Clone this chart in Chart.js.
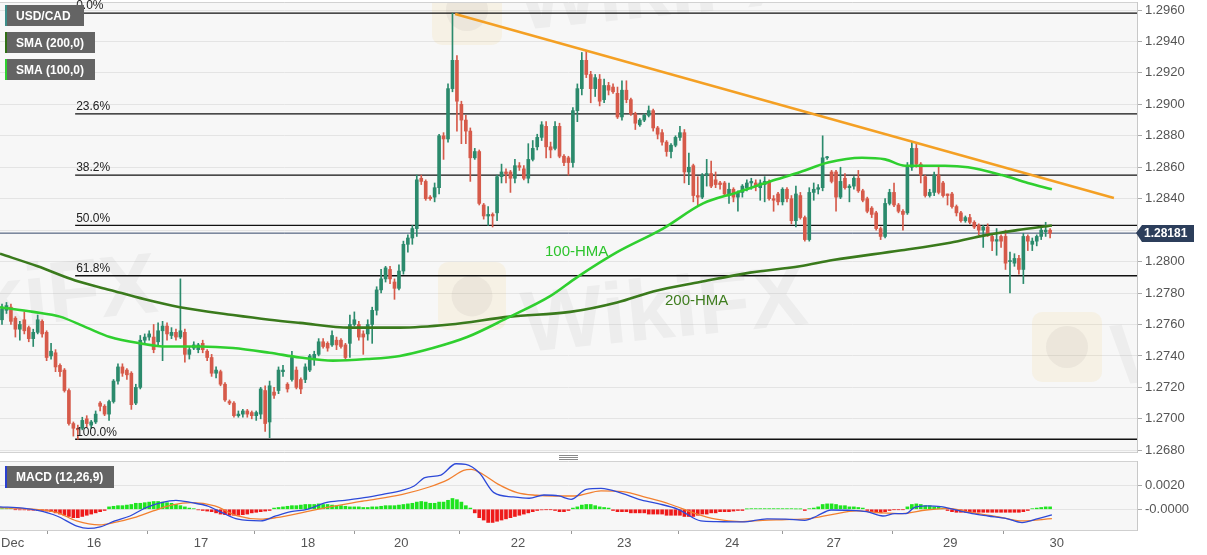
<!DOCTYPE html>
<html>
<head>
<meta charset="utf-8">
<script src="https://cdn.jsdelivr.net/npm/chart.js@4.4.1/dist/chart.umd.min.js"></script>
<style>
  html, body { margin: 0; padding: 0; background: #fff; }
  #wrap { position: relative; width: 1207px; height: 555px; overflow: hidden; background: #fff; }
  canvas { position: absolute; left: 0; }
  #main { top: 0; }
  #macd { top: 460px; }
</style>
</head>
<body>
<div id="wrap">
  <canvas id="main" width="1207" height="460"></canvas>
  <canvas id="macd" width="1207" height="95"></canvas>
</div>
<script>
/* USD/CAD hourly — candles, 100/200 HMA, fib levels, trendline, MACD */

// hourly candles, index 0 = first bar on the left
const opens = [
  1.2763,1.2769,1.2771,1.2764,1.2757,1.2763,1.2758,1.2751,1.2755,1.2762,
  1.2755,1.2740,1.2742,1.2734,1.2731,1.2718,1.2697,1.2694,1.2694,1.2700,
  1.2696,1.2698,1.2710,1.2708,1.2703,1.2711,1.2724,1.2733,1.2731,1.2729,
  1.2710,1.2720,1.2750,1.2752,1.2752,1.2749,1.2756,1.2759,1.2753,1.2755,
  1.2752,1.2755,1.2741,1.2745,1.2744,1.2748,1.2743,1.2739,1.2729,1.2730,
  1.2722,1.2711,1.2710,1.2702,1.2703,1.2705,1.2704,1.2702,1.2703,1.2718,
  1.2698,1.2717,1.2718,1.2730,1.2722,1.2725,1.2731,1.2725,1.2725,1.2731,
  1.2738,1.2741,1.2749,1.2748,1.2747,1.2750,1.2750,1.2747,1.2748,1.2760,
  1.2760,1.2754,1.2754,1.2760,1.2769,1.2782,1.2789,1.2795,1.2787,1.2783,
  1.2794,1.2811,1.2815,1.2821,1.2853,1.2851,1.2841,1.2841,1.2847,1.2880,
  1.2878,1.2910,1.2928,1.2900,1.2890,1.2883,1.2866,1.2870,1.2836,1.2829,
  1.2830,1.2831,1.2854,1.2857,1.2857,1.2853,1.2861,1.2859,1.2853,1.2865,
  1.2873,1.2879,1.2886,1.2873,1.2872,1.2886,1.2867,1.2866,1.2863,1.2896,
  1.2910,1.2928,1.2919,1.2910,1.2916,1.2903,1.2912,1.2911,1.2907,1.2892,
  1.2909,1.2903,1.2894,1.2887,1.2890,1.2893,1.2896,1.2885,1.2882,1.2876,
  1.2870,1.2874,1.2879,1.2882,1.2857,1.2861,1.2842,1.2841,1.2855,1.2856,
  1.2852,1.2850,1.2850,1.2843,1.2846,1.2841,1.2844,1.2847,1.2850,1.2850,
  1.2847,1.2849,1.2851,1.2840,1.2843,1.2838,1.2846,1.2840,1.2826,1.2842,
  1.2828,1.2814,1.2844,1.2846,1.2847,1.2866,1.2857,1.2857,1.2841,1.2853,
  1.2847,1.2848,1.2853,1.2845,1.2840,1.2834,1.2831,1.2821,1.2816,1.2837,
  1.2844,1.2836,1.2832,1.2831,1.2860,1.2872,1.2862,1.2854,1.2842,1.2844,
  1.2855,1.2850,1.2843,1.2843,1.2835,1.2831,1.2826,1.2828,1.2825,1.2823,
  1.2820,1.2822,1.2816,1.2813,1.2816,1.2816,1.2800,1.2799,1.2802,1.2795,
  1.2816,1.2811,1.2813,1.2816,1.2819,1.2820
];
const highs = [
  1.2773,1.2774,1.2773,1.2765,1.2762,1.2768,1.2759,1.2757,1.2766,1.2763,
  1.2756,1.2748,1.2744,1.2735,1.2732,1.2719,1.2698,1.2696,1.2701,1.2702,
  1.2699,1.2705,1.2711,1.2709,1.2712,1.2725,1.2735,1.2735,1.2732,1.2730,
  1.2722,1.2753,1.2754,1.2756,1.2760,1.2761,1.2762,1.2761,1.2758,1.2757,
  1.2789,1.2757,1.2746,1.2749,1.2748,1.2750,1.2744,1.2741,1.2733,1.2731,
  1.2723,1.2712,1.2711,1.2705,1.2706,1.2706,1.2705,1.2705,1.2720,1.2721,
  1.2724,1.2720,1.2733,1.2734,1.2723,1.2743,1.2733,1.2726,1.2735,1.2741,
  1.2743,1.2751,1.2751,1.2749,1.2756,1.2752,1.2751,1.2748,1.2766,1.2768,
  1.2762,1.2756,1.2763,1.2771,1.2784,1.2795,1.2797,1.2797,1.2789,1.2798,
  1.2813,1.2817,1.2823,1.2855,1.2855,1.2852,1.2842,1.2850,1.2881,1.2882,
  1.2913,1.2958,1.2931,1.2902,1.2893,1.2885,1.2872,1.2871,1.2837,1.2835,
  1.2831,1.2855,1.2862,1.2859,1.2858,1.2865,1.2863,1.2861,1.2875,1.2877,
  1.2881,1.2889,1.2889,1.2876,1.2889,1.2888,1.2868,1.2867,1.2898,1.2913,
  1.2933,1.2934,1.2921,1.2919,1.2919,1.2916,1.2914,1.2913,1.2911,1.2915,
  1.2915,1.2904,1.2895,1.2891,1.2894,1.2899,1.2897,1.2886,1.2884,1.2877,
  1.2875,1.2880,1.2886,1.2884,1.2869,1.2862,1.2854,1.2856,1.2865,1.2864,
  1.2857,1.2851,1.2851,1.2850,1.2847,1.2845,1.2849,1.2852,1.2853,1.2852,
  1.2852,1.2854,1.2852,1.2842,1.2844,1.2847,1.2847,1.2842,1.2848,1.2844,
  1.2829,1.2847,1.2850,1.2849,1.2880,1.2867,1.2858,1.2858,1.2860,1.2856,
  1.2849,1.2854,1.2858,1.2846,1.2841,1.2835,1.2832,1.2822,1.2840,1.2846,
  1.2850,1.2837,1.2833,1.2863,1.2876,1.2875,1.2863,1.2855,1.2846,1.2857,
  1.2861,1.2851,1.2843,1.2844,1.2836,1.2832,1.2829,1.2830,1.2826,1.2824,
  1.2823,1.2824,1.2817,1.2821,1.2817,1.2820,1.2806,1.2805,1.2804,1.2818,
  1.2817,1.2815,1.2817,1.2822,1.2825,1.2821
];
const lows = [
  1.2760,1.2767,1.2760,1.2752,1.2750,1.2754,1.2749,1.2746,1.2754,1.2752,
  1.2737,1.2738,1.2730,1.2727,1.2717,1.2696,1.2689,1.2687,1.2693,1.2695,
  1.2694,1.2697,1.2705,1.2702,1.2699,1.2710,1.2722,1.2727,1.2725,1.2706,
  1.2709,1.2719,1.2748,1.2750,1.2742,1.2746,1.2737,1.2750,1.2751,1.2750,
  1.2751,1.2736,1.2738,1.2744,1.2742,1.2742,1.2737,1.2727,1.2726,1.2721,
  1.2711,1.2709,1.2701,1.2701,1.2701,1.2701,1.2700,1.2699,1.2700,1.2692,
  1.2688,1.2713,1.2716,1.2727,1.2717,1.2724,1.2719,1.2716,1.2723,1.2730,
  1.2734,1.2740,1.2745,1.2743,1.2746,1.2744,1.2745,1.2738,1.2739,1.2759,
  1.2750,1.2741,1.2750,1.2748,1.2766,1.2780,1.2787,1.2786,1.2776,1.2782,
  1.2792,1.2806,1.2811,1.2816,1.2849,1.2839,1.2839,1.2838,1.2843,1.2865,
  1.2876,1.2908,1.2883,1.2875,1.2875,1.2851,1.2865,1.2836,1.2827,1.2823,
  1.2822,1.2826,1.2850,1.2850,1.2844,1.2850,1.2858,1.2852,1.2850,1.2864,
  1.2871,1.2877,1.2866,1.2866,1.2871,1.2866,1.2861,1.2855,1.2860,1.2889,
  1.2906,1.2917,1.2901,1.2905,1.2899,1.2901,1.2906,1.2907,1.2891,1.2890,
  1.2901,1.2893,1.2884,1.2886,1.2889,1.2892,1.2883,1.2878,1.2874,1.2867,
  1.2866,1.2873,1.2877,1.2850,1.2849,1.2838,1.2836,1.2840,1.2848,1.2847,
  1.2847,1.2846,1.2842,1.2837,1.2838,1.2832,1.2841,1.2845,1.2846,1.2845,
  1.2839,1.2838,1.2839,1.2832,1.2836,1.2836,1.2838,1.2824,1.2822,1.2827,
  1.2813,1.2813,1.2839,1.2843,1.2845,1.2865,1.2850,1.2832,1.2840,1.2846,
  1.2838,1.2846,1.2844,1.2838,1.2831,1.2828,1.2820,1.2814,1.2815,1.2836,
  1.2835,1.2831,1.2820,1.2830,1.2858,1.2860,1.2850,1.2841,1.2841,1.2842,
  1.2843,1.2841,1.2836,1.2834,1.2829,1.2825,1.2825,1.2824,1.2821,1.2817,
  1.2809,1.2816,1.2807,1.2804,1.2809,1.2795,1.2780,1.2797,1.2792,1.2786,
  1.2807,1.2807,1.2810,1.2814,1.2816,1.2815
];
const closes = [
  1.2770,1.2772,1.2762,1.2757,1.2760,1.2756,1.2751,1.2755,1.2763,1.2754,
  1.2739,1.2743,1.2733,1.2730,1.2718,1.2697,1.2694,1.2693,1.2699,1.2697,
  1.2698,1.2703,1.2708,1.2703,1.2711,1.2724,1.2733,1.2729,1.2728,1.2709,
  1.2720,1.2750,1.2752,1.2754,1.2744,1.2756,1.2759,1.2754,1.2755,1.2752,
  1.2756,1.2741,1.2744,1.2747,1.2747,1.2744,1.2739,1.2729,1.2731,1.2722,
  1.2712,1.2710,1.2702,1.2703,1.2705,1.2703,1.2702,1.2704,1.2719,1.2697,
  1.2721,1.2715,1.2731,1.2731,1.2719,1.2739,1.2720,1.2719,1.2733,1.2740,
  1.2741,1.2749,1.2746,1.2745,1.2753,1.2747,1.2746,1.2739,1.2760,1.2763,
  1.2752,1.2752,1.2760,1.2769,1.2782,1.2789,1.2796,1.2789,1.2783,1.2794,
  1.2811,1.2815,1.2821,1.2852,1.2851,1.2840,1.2840,1.2847,1.2880,1.2878,
  1.2910,1.2928,1.2902,1.2890,1.2883,1.2866,1.2870,1.2837,1.2829,1.2830,
  1.2829,1.2854,1.2857,1.2856,1.2853,1.2861,1.2860,1.2853,1.2865,1.2872,
  1.2879,1.2887,1.2873,1.2871,1.2886,1.2867,1.2863,1.2863,1.2896,1.2910,
  1.2928,1.2919,1.2910,1.2917,1.2902,1.2912,1.2909,1.2908,1.2892,1.2909,
  1.2903,1.2894,1.2888,1.2890,1.2893,1.2896,1.2885,1.2881,1.2876,1.2870,
  1.2874,1.2879,1.2882,1.2857,1.2860,1.2842,1.2841,1.2855,1.2856,1.2848,
  1.2849,1.2849,1.2843,1.2846,1.2841,1.2844,1.2848,1.2850,1.2851,1.2848,
  1.2850,1.2851,1.2840,1.2839,1.2838,1.2846,1.2840,1.2826,1.2843,1.2828,
  1.2814,1.2844,1.2846,1.2847,1.2866,1.2866,1.2851,1.2841,1.2851,1.2847,
  1.2848,1.2853,1.2845,1.2839,1.2832,1.2830,1.2821,1.2816,1.2837,1.2844,
  1.2836,1.2832,1.2830,1.2861,1.2872,1.2862,1.2855,1.2842,1.2844,1.2855,
  1.2844,1.2842,1.2842,1.2835,1.2831,1.2826,1.2828,1.2825,1.2822,1.2820,
  1.2822,1.2817,1.2813,1.2814,1.2813,1.2799,1.2800,1.2802,1.2795,1.2816,
  1.2813,1.2813,1.2816,1.2820,1.2820,1.2818
];

// moving averages: [bar index, price]
const hma100 = [
  [-0.45,1.2771],[7,1.2768],[13,1.2765],[19,1.2758],[24.2,1.2752],[31,1.2748],[37,1.2746],
  [44.4,1.2746],[51.8,1.2745],[60,1.2742],[66.8,1.2739],[74.2,1.2737],[81.8,1.2738],[89.2,1.2740],
  [96.6,1.2745],[104.3,1.2752],[113.2,1.2764],[122.9,1.2778],[128.9,1.2790],[137.9,1.2806],
  [148.2,1.2821],[157.2,1.2837],[164.8,1.2844],[172.2,1.2851],[179,1.2857],[185.2,1.2863],
  [192.8,1.2866],[198,1.2865],[202.5,1.2861],[211.4,1.2861],[216.6,1.2860],[224.2,1.2855],
  [230,1.2850],[235.4,1.2846]
];
const hma200 = [
  [-0.45,1.2805],[8,1.2797],[16.4,1.2788],[24.2,1.2782],[32,1.2776],[39.9,1.2771],[51.8,1.2766],
  [60,1.2763],[66.8,1.2761],[78,1.2758],[89.2,1.2758],[100.4,1.2760],[113.9,1.2765],[127.4,1.2768],
  [137.9,1.2774],[146,1.2781],[156.5,1.2787],[167.7,1.2793],[178.9,1.2797],[186.3,1.2801],
  [201.3,1.2807],[212.6,1.2812],[220.9,1.2817],[227.6,1.2820],[235.4,1.2823]
];
const trendLine = [[101.6,1.29575],[249.3,1.28404]];

const fibLevels = [1.2958, 1.2894, 1.2855, 1.2823, 1.2791, 1.2687];
const fibLabels = ['0.0%', '23.6%', '38.2%', '50.0%', '61.8%', '100.0%'];
const FIB_START = 16.4;
const lastPrice = 1.28181;

const priceTicks = [1.2680,1.2700,1.2720,1.2740,1.2760,1.2780,1.2800,1.2820,1.2840,1.2860,1.2880,1.2900,1.2920,1.2940,1.2960];
const dayTickIdx = [-0.2, 20.6, 44.6, 68.6, 89.5, 115.7, 139.5, 163.7, 186.5, 212.6, 236.5];
const dayTickLabels = ['Dec', '16', '17', '18', '20', '22', '23', '24', '27', '29', '30'];

// MACD (12,26,9)
const macdLine = [
  [-0.45,0.0002],[4.7,0.0001],[8,-0.0001],[12.3,-0.00056],[16.8,-0.0014],[19.3,-0.0016],[22,-0.00147],
  [25.3,-0.00097],[28.7,-0.00056],[32.3,0.00014],[35.7,0.00055],[39,0.00075],[42.6,0.00055],[46,0.00028],
  [49.3,-0.00028],[52.9,-0.00083],[58,-0.00097],[61.4,-0.00056],[64.8,-0.0002],[68.4,0],[72.6,0.00055],
  [76.9,0.00075],[81.2,0.00097],[85.4,0.00125],[89.7,0.00158],[92.4,0.00194],[94.8,0.00264],[98.4,0.00286],
  [101.8,0.0038],[104,0.00375],[107,0.00305],[110.3,0.00139],[114.6,0.00103],[118.2,0.00092],[121.5,0.00119],
  [124.9,0.00111],[127.6,0.00083],[131,0.00167],[134.3,0.00175],[139.2,0.0013],[142.8,0.00083],[147.1,0.00047],
  [151.6,0],[156.7,-0.00097],[160.1,-0.00103],[166.1,-0.00106],[171.5,-0.0008],[175.8,-0.00083],[180,-0.00092],
  [182.7,-0.00056],[185.9,-0.00006],[189.7,-0.00008],[193.9,-0.0002],[197.5,-0.00056],[200.2,-0.00036],
  [202.7,-0.00036],[204.5,0.00014],[207.2,0.00028],[210.5,0.00022],[214.1,-0.00008],[217.5,-0.00036],
  [221.1,-0.00056],[225.3,-0.00078],[228.7,-0.00111],[232.3,-0.00078],[235.4,-0.00047]
];
const signalLine = [
  [-0.45,0.00014],[8.1,-0.00003],[12.4,-0.00028],[16.7,-0.00097],[21.9,-0.0013],[25.3,-0.0011],[29.6,-0.0007],
  [33.9,-0.00014],[38.2,0.00036],[42.5,0.00055],[47.7,0.00028],[52.8,-0.00056],[57.9,-0.00083],[61.4,-0.0007],
  [68.3,-0.0002],[72.6,0.00014],[81.2,0.0007],[89.8,0.00125],[95.8,0.00186],[100.1,0.0025],[103.5,0.00325],
  [105.2,0.00333],[107.8,0.00292],[111.2,0.0021],[115.5,0.00139],[119.8,0.00117],[124.1,0.00111],[128.4,0.00111],
  [134.3,0.00153],[139.2,0.00147],[144.6,0.00097],[149.8,0.00042],[154.9,-0.00028],[160.1,-0.00083],
  [165.5,-0.00103],[170.6,-0.00092],[175.8,-0.00086],[180.9,-0.00078],[186.3,-0.00042],[191.5,-0.00014],
  [196.6,-0.00028],[201.8,-0.00036],[207.2,-0.00006],[212.3,0.00008],[217.5,-0.00028],[223.5,-0.00064],
  [228.7,-0.00097],[235.4,-0.00078]
];
const macdHist = [
  0.00005,0.00005,0.00005,-0.00003,-0.00005,-0.00005,-0.00007,-0.00008,-0.0001,-0.0001,
  -0.00015,-0.0002,-0.0003,-0.0004,-0.0005,-0.0006,-0.0007,-0.0007,-0.0006,-0.0005,
  -0.0004,-0.0003,-0.0002,-0.0001,0.0002,0.00025,0.0003,0.0003,0.00035,0.0004,
  0.0005,0.0005,0.00055,0.0006,0.00065,0.00065,0.0006,0.00055,0.0005,0.0004,
  0.0003,0.0002,0.0001,0.00005,-0.00005,-0.0001,-0.00015,-0.0002,-0.0003,-0.0004,
  -0.00045,-0.0005,-0.0005,-0.0005,-0.00045,-0.0004,-0.0003,-0.00025,-0.0002,-0.00015,
  -0.0001,0.0001,0.00015,0.0002,0.00025,0.0003,0.0003,0.00035,0.0004,0.0004,
  0.0004,0.00045,0.0004,0.0004,0.00035,0.0003,0.0003,0.00025,0.0002,0.0002,
  0.0002,0.00015,0.00015,0.0002,0.0002,0.00025,0.0003,0.0003,0.0003,0.00035,
  0.0004,0.00045,0.0005,0.0006,0.00065,0.0006,0.0005,0.0005,0.0006,0.0006,
  0.00075,0.0009,0.0008,0.0006,0.0003,0.0001,-0.0003,-0.0007,-0.0009,-0.0011,
  -0.0011,-0.001,-0.0009,-0.0008,-0.0007,-0.0006,-0.0005,-0.0004,-0.0003,-0.0002,
  -0.0001,-0.00005,-0.00003,-0.00003,-0.0001,-0.0002,-0.0002,-0.0001,0.0001,0.0002,
  0.00035,0.0004,0.0004,0.0003,0.0002,0.00015,0.0001,-0.0001,-0.0002,-0.0002,
  -0.0002,-0.0003,-0.0003,-0.0003,-0.0003,-0.0004,-0.0004,-0.0004,-0.0004,-0.0005,
  -0.0005,-0.0005,-0.0005,-0.0006,-0.0006,-0.0006,-0.0005,-0.0004,-0.0004,-0.0003,
  -0.0003,-0.0002,-0.0002,-0.0002,-0.00015,-0.0001,-0.0001,0.00003,0.00005,0.00005,
  0.00005,0.00005,0.00005,0.00005,0.00005,0.00005,0.00005,0.00005,0.00003,0.00003,
  -0.0001,0.00005,0.0001,0.0002,0.0004,0.00045,0.00045,0.0004,0.0003,0.0003,
  0.0002,0.0002,0.00015,0.0001,-0.0001,-0.0002,-0.0003,-0.0003,-0.0002,-0.0001,
  -0.00003,-0.00003,-0.00003,0.0002,0.0004,0.00045,0.0004,0.0003,0.0003,0.0002,
  0.0002,0.0001,-0.0001,-0.0002,-0.00025,-0.00025,-0.00025,-0.00025,-0.00025,-0.00025,
  -0.00025,-0.00025,-0.00025,-0.00025,-0.00025,-0.00025,-0.00025,-0.00025,-0.00025,-0.0002,
  -0.0001,0.00005,0.0001,0.00015,0.0002,0.0002
];

const X_MIN = -0.45, X_MAX = 254.48;
const UP = '#2b8a6c', DOWN = '#d65a4a';
const FONT = "'Liberation Sans', Arial, sans-serif";

Chart.defaults.font.family = FONT;
Chart.defaults.font.size = 13;
Chart.defaults.color = '#555';

const candleColors = opens.map((o, i) => closes[i] >= o ? UP : DOWN);
const toXY = arr => arr.map(p => ({ x: p[0], y: p[1] }));

function labelBox(ctx, x, y, w, h, accent, text) {
  ctx.fillStyle = '#646464';
  ctx.fillRect(x, y, w, h);
  ctx.fillStyle = accent;
  ctx.fillRect(x, y, 2, h);
  ctx.fillStyle = '#fff';
  ctx.font = 'bold 12px ' + FONT;
  ctx.textAlign = 'left';
  ctx.textBaseline = 'middle';
  ctx.fillText(text, x + 11, y + h / 2 + 1);
}

function logo(ctx, x, y, s) {
  ctx.fillStyle = 'rgba(240,205,120,0.14)';
  ctx.beginPath();
  ctx.roundRect(x, y, s, s, 10);
  ctx.fill();
  ctx.fillStyle = 'rgba(150,140,140,0.10)';
  ctx.beginPath();
  ctx.arc(x + s / 2, y + s / 2, s * 0.3, 0, Math.PI * 2);
  ctx.fill();
}

const mainDecor = {
  id: 'mainDecor',
  beforeDraw(chart) {
    const { ctx, chartArea: a } = chart;
    ctx.save();
    ctx.fillStyle = '#fff';
    ctx.fillRect(0, 0, chart.width, chart.height);
    ctx.fillStyle = '#f7f7f7';
    ctx.fillRect(a.left, a.top, a.right - a.left, a.bottom - a.top);
    ctx.restore();
  },
  beforeDatasetsDraw(chart) {
    const { ctx, chartArea: a } = chart;
    ctx.save();
    ctx.beginPath();
    ctx.rect(a.left, a.top, a.right - a.left, a.bottom - a.top);
    ctx.clip();
    logo(ctx, 432, -25, 70);
    logo(ctx, 438, 262, 68);
    logo(ctx, 1032, 312, 70);
    ctx.fillStyle = 'rgba(130,130,130,0.08)';
    ctx.font = 'bold 86px ' + FONT;
    ctx.textBaseline = 'alphabetic';
    [[-125, 340], [525, 352], [520, 30], [1115, 385]].forEach(([x, y]) => {
      ctx.save();
      ctx.translate(x, y);
      ctx.rotate(-0.1);
      ctx.fillText('WikiFX', 0, 0);
      ctx.restore();
    });
    ctx.restore();
  },
  afterDatasetsDraw(chart) {
    const { ctx, chartArea: a, scales: { x, y } } = chart;
    ctx.save();
    // panel frame
    ctx.strokeStyle = '#d2d2d2';
    ctx.lineWidth = 1;
    ctx.beginPath();
    ctx.moveTo(a.left, a.top + 0.5); ctx.lineTo(a.right, a.top + 0.5);
    ctx.moveTo(a.left, a.bottom + 0.5); ctx.lineTo(a.right, a.bottom + 0.5);
    ctx.stroke();

    // fib labels
    ctx.fillStyle = '#222';
    ctx.font = '12px ' + FONT;
    ctx.textAlign = 'left';
    ctx.textBaseline = 'bottom';
    const fx = x.getPixelForValue(FIB_START) + 1;
    fibLevels.forEach((lv, i) => ctx.fillText(fibLabels[i], fx, y.getPixelForValue(lv) - 1));

    // HMA annotations
    ctx.font = '15px ' + FONT;
    ctx.textBaseline = 'middle';
    ctx.fillStyle = '#2cc42c';
    ctx.fillText('100-HMA', 545, 252);
    ctx.fillStyle = '#3f7d1f';
    ctx.fillText('200-HMA', 665, 301);

    // legend boxes
    labelBox(ctx, 5, 5, 79, 21, '#3b8e8a', 'USD/CAD');
    labelBox(ctx, 5, 32, 90, 21, '#2f6f14', 'SMA (200,0)');
    labelBox(ctx, 5, 59, 90, 21, '#2fd02f', 'SMA (100,0)');

    // last price tag
    const py = Math.round(y.getPixelForValue(lastPrice));
    ctx.fillStyle = '#2c3e5b';
    ctx.beginPath();
    ctx.moveTo(a.right - 1, py);
    ctx.lineTo(a.right + 5, py - 8);
    ctx.lineTo(a.right + 57, py - 8);
    ctx.lineTo(a.right + 57, py + 9);
    ctx.lineTo(a.right + 5, py + 9);
    ctx.closePath();
    ctx.fill();
    ctx.fillStyle = '#fff';
    ctx.font = 'bold 12px ' + FONT;
    ctx.textAlign = 'left';
    ctx.textBaseline = 'middle';
    ctx.fillText(lastPrice.toFixed(5), a.right + 7, py + 1);

    // panel resize handle
    ctx.strokeStyle = '#888';
    ctx.beginPath();
    [455.5, 457.5, 459.5].forEach(hy => { ctx.moveTo(559, hy); ctx.lineTo(578, hy); });
    ctx.stroke();
    ctx.restore();
  }
};

const mainDatasets = [];
fibLevels.forEach(lv => mainDatasets.push({
  type: 'line', data: [{ x: FIB_START, y: lv }, { x: X_MAX, y: lv }],
  borderColor: '#111', borderWidth: 1.3, pointRadius: 0, order: 10
}));
mainDatasets.push({
  type: 'line', data: [{ x: X_MIN, y: lastPrice }, { x: X_MAX, y: lastPrice }],
  borderColor: '#34476a', borderWidth: 1, pointRadius: 0, order: 9
});
mainDatasets.push({
  type: 'bar', data: opens.map((_, i) => ({ x: i, y: [lows[i], highs[i]] })),
  backgroundColor: candleColors, barThickness: 1, grouped: false, order: 6
});
mainDatasets.push({
  type: 'bar', data: opens.map((o, i) => ({ x: i, y: [o, closes[i]] })),
  backgroundColor: candleColors, barThickness: 3, minBarLength: 1, grouped: false, order: 5
});
mainDatasets.push({
  type: 'line', data: toXY(hma200), borderColor: '#3a7a1c', borderWidth: 2.6,
  pointRadius: 0, cubicInterpolationMode: 'monotone', order: 4
});
mainDatasets.push({
  type: 'line', data: toXY(hma100), borderColor: '#2fcf2f', borderWidth: 2.6,
  pointRadius: 0, cubicInterpolationMode: 'monotone', order: 3
});
mainDatasets.push({
  type: 'line', data: toXY(trendLine), borderColor: '#f4a024', borderWidth: 2.5,
  pointRadius: 0, order: 2
});

new Chart(document.getElementById('main'), {
  type: 'bar',
  data: { datasets: mainDatasets },
  options: {
    responsive: false,
    animation: false,
    layout: { padding: { top: 2, bottom: 8, left: 0, right: 0 } },
    plugins: { legend: { display: false }, tooltip: { enabled: false } },
    scales: {
      x: { type: 'linear', min: X_MIN, max: X_MAX, offset: false, display: false },
      y: {
        position: 'right', min: 1.26789, max: 1.29651,
        afterBuildTicks: s => { s.ticks = priceTicks.map(v => ({ value: v })); },
        afterFit: s => { s.width = 70; s.paddingTop = 0; s.paddingBottom = 0; },
        ticks: {
          padding: 3, color: '#555', font: { size: 13 },
          callback: v => Math.abs(v - lastPrice) < 0.0004 ? '' : v.toFixed(4)
        },
        grid: { color: '#e4e4e4', tickColor: '#aaa', tickLength: 5 },
        border: { color: '#c8c8c8' }
      }
    }
  },
  plugins: [mainDecor]
});

const macdDecor = {
  id: 'macdDecor',
  beforeDraw(chart) {
    const { ctx, chartArea: a } = chart;
    ctx.save();
    ctx.fillStyle = '#fff';
    ctx.fillRect(0, 0, chart.width, chart.height);
    ctx.fillStyle = '#f7f7f7';
    ctx.fillRect(a.left, a.top, a.right - a.left, a.bottom - a.top);
    ctx.restore();
  },
  afterDatasetsDraw(chart) {
    const { ctx, chartArea: a } = chart;
    ctx.save();
    ctx.strokeStyle = '#d2d2d2';
    ctx.beginPath();
    ctx.moveTo(a.left, a.top + 0.5); ctx.lineTo(a.right, a.top + 0.5);
    ctx.stroke();
    labelBox(ctx, 5, 6, 109, 22, '#2a3fd0', 'MACD (12,26,9)');
    ctx.restore();
  }
};

new Chart(document.getElementById('macd'), {
  type: 'bar',
  data: {
    datasets: [
      {
        type: 'bar', data: macdHist.map((v, i) => ({ x: i, y: v })),
        backgroundColor: macdHist.map(v => v >= 0 ? '#1fe41f' : '#ee1a1a'),
        barThickness: 3, grouped: false, order: 5
      },
      {
        type: 'line', data: toXY(macdLine), borderColor: '#2d49d8', borderWidth: 1.3,
        pointRadius: 0, cubicInterpolationMode: 'monotone', order: 2
      },
      {
        type: 'line', data: toXY(signalLine), borderColor: '#f28030', borderWidth: 1.3,
        pointRadius: 0, cubicInterpolationMode: 'monotone', order: 3
      }
    ]
  },
  options: {
    responsive: false,
    animation: false,
    layout: { padding: { top: 1, bottom: 0, left: 0, right: 0 } },
    plugins: { legend: { display: false }, tooltip: { enabled: false } },
    scales: {
      x: {
        type: 'linear', min: X_MIN, max: X_MAX, offset: false,
        afterBuildTicks: s => { s.ticks = dayTickIdx.concat([X_MAX]).map(v => ({ value: v })); },
        afterFit: s => { s.height = 25; s.paddingLeft = 0; s.paddingRight = 0; },
        ticks: {
          autoSkip: false, maxRotation: 0, padding: 2, align: 'inner', color: '#555', font: { size: 13 },
          callback: (v, i) => dayTickLabels[i] || ''
        },
        grid: {
          drawOnChartArea: false, tickLength: 4,
          tickColor: c => c.index < dayTickIdx.length ? '#999' : 'rgba(0,0,0,0)'
        },
        border: { color: '#cfcfcf' }
      },
      y: {
        position: 'right', min: -0.00173, max: 0.00403,
        afterBuildTicks: s => { s.ticks = [0, 0.002].map(v => ({ value: v })); },
        afterFit: s => { s.width = 70; s.paddingTop = 0; s.paddingBottom = 0; },
        ticks: {
          padding: 3, color: '#555', font: { size: 13 },
          callback: v => v === 0 ? '-0.0000' : v.toFixed(4)
        },
        grid: { color: '#e4e4e4', tickColor: '#aaa', tickLength: 5 },
        border: { color: '#c8c8c8' }
      }
    }
  },
  plugins: [macdDecor]
});
</script>
</body>
</html>
